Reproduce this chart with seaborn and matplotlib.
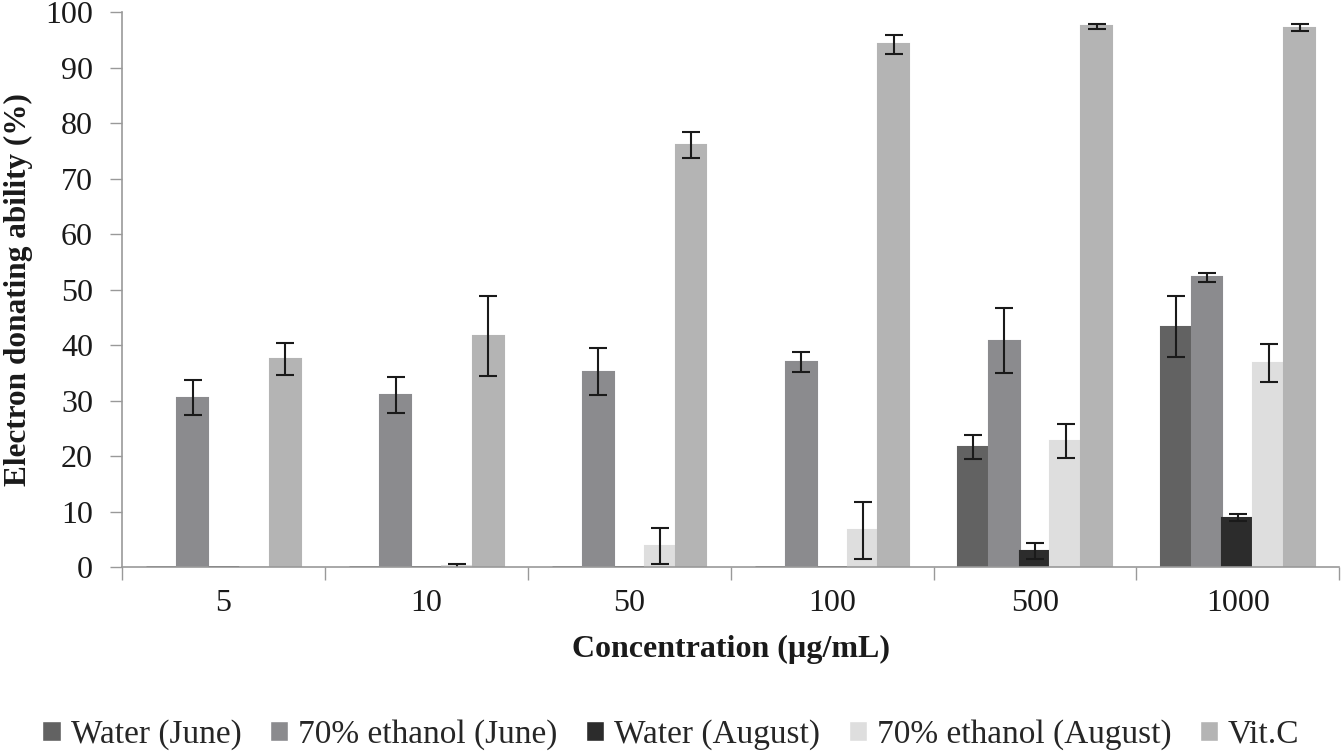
import pandas as pd
import matplotlib.pyplot as plt
import seaborn as sns

# Data
concentrations = ["5", "10", "50", "100", "500", "1000"]
series = ["Water (June)", "70% ethanol (June)", "Water (August)",
          "70% ethanol (August)", "Vit.C"]

water_june = [0, 0, 0, 0, 21.6, 43.3]
ethanol_june = [30.5, 31.0, 35.2, 37.0, 40.8, 52.2]
water_aug = [0, 0, 0, 0, 2.9, 8.9]
ethanol_aug = [0, 0.1, 3.8, 6.6, 22.7, 36.8]
vitc = [37.5, 41.7, 76.0, 94.2, 97.4, 97.2]

water_june_err = [0, 0, 0, 0, 2.1, 5.5]
ethanol_june_err = [3.2, 3.2, 4.2, 1.8, 5.9, 0.8]
water_aug_err = [0, 0, 0, 0, 1.5, 0.7]
ethanol_aug_err = [0, 0.4, 3.3, 5.1, 3.0, 3.4]
vitc_err = [2.9, 7.2, 2.3, 1.7, 0.5, 0.6]

colors = ["#626262", "#8a8b8e", "#2c2c2c", "#dedede", "#b4b4b4"]

values = [water_june, ethanol_june, water_aug, ethanol_aug, vitc]
errors = [water_june_err, ethanol_june_err, water_aug_err, ethanol_aug_err, vitc_err]

rows = []
for name, vals in zip(series, values):
    for c, v in zip(concentrations, vals):
        rows.append({"Concentration": c, "Value": v, "Series": name})
df = pd.DataFrame(rows)

sns.set_style("white")
plt.rcParams["font.family"] = ["Liberation Serif", "DejaVu Serif"]

fig = plt.figure(figsize=(13.42, 7.51), dpi=100)
ax = fig.add_axes([0.091, 0.245, 0.907, 0.739])

sns.barplot(data=df, x="Concentration", y="Value", hue="Series",
            order=concentrations, hue_order=series, palette=colors,
            width=0.76, errorbar=None, ax=ax)

# bars: edge in own colour so zero values show as a line, plus error bars
for container, errs in zip(ax.containers, errors):
    for bar, e in zip(container, errs):
        bar.set_edgecolor(bar.get_facecolor())
        bar.set_linewidth(2 if bar.get_height() == 0 else 1.5)
        if e > 0:
            ax.errorbar(bar.get_x() + bar.get_width() / 2, bar.get_height(),
                        yerr=e, fmt="none", ecolor="#1a1a1a",
                        elinewidth=1.5, capsize=6.5, capthick=1.5)

ax.set_ylim(0, 100)
ax.set_xlim(-0.5, 5.5)
ax.set_yticks(range(0, 101, 10))
ax.set_xticks([i - 0.5 for i in range(7)], minor=True)
ax.tick_params(axis="x", which="major", length=0, labelsize=23, pad=16,
               colors="#1a1a1a")
ax.tick_params(axis="x", which="minor", length=9, width=1, color="#999999",
               direction="out", bottom=True)
ax.tick_params(axis="y", length=9, width=1, color="#999999", direction="out",
               left=True, labelsize=23, colors="#1a1a1a", pad=12)

for side in ["top", "right"]:
    ax.spines[side].set_visible(False)
for side in ["left", "bottom"]:
    ax.spines[side].set_color("#999999")
    ax.spines[side].set_linewidth(1.2)

ax.set_xlabel("Concentration (µg/mL)", fontsize=23, fontweight="bold",
              labelpad=12, color="#1a1a1a")
ax.set_ylabel("Electron donating ability (%)", fontsize=22.5, fontweight="bold",
              labelpad=9, color="#1a1a1a")

handles, labels = ax.get_legend_handles_labels()
ax.get_legend().remove()
fig.legend(handles, labels, loc="center", bbox_to_anchor=(0.5, 0.022),
           ncol=5, frameon=False, fontsize=24, handlelength=0.55,
           handleheight=0.55, handletextpad=0.3, columnspacing=0.85,
           borderaxespad=0, borderpad=0)

plt.savefig("out.png", dpi=100)
plt.close()
